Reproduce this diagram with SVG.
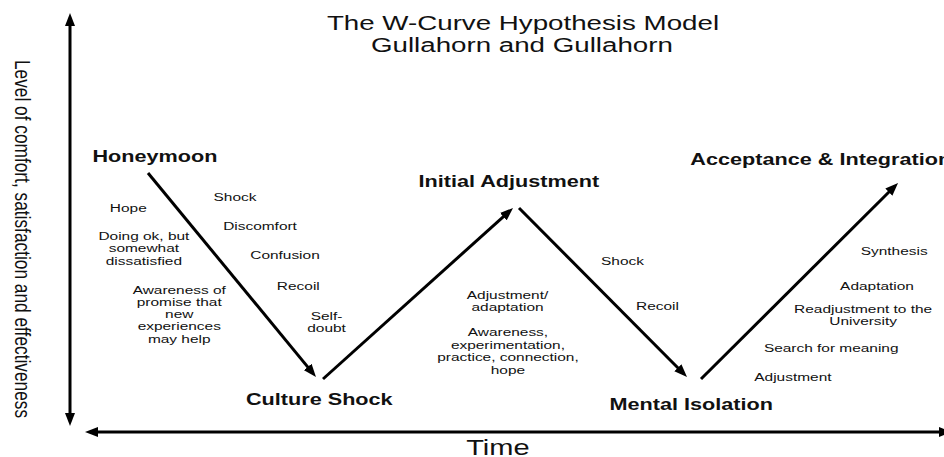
<svg xmlns="http://www.w3.org/2000/svg" width="944" height="457" viewBox="0 0 944 457">
<defs>
<marker id="ah" viewBox="0 0 13 10" refX="8" refY="5" markerWidth="13" markerHeight="10" markerUnits="userSpaceOnUse" orient="auto-start-reverse">
<path d="M0,0 L13,5 L0,10 z" fill="#000"/>
</marker>
<style>
text{font-family:"Liberation Sans",Arial,sans-serif;fill:#111;text-anchor:middle}
.t{font-size:21px}
.b{font-size:16.4px;font-weight:bold}
.s{font-size:11.7px}
.ax{font-size:22px}
.yl{font-size:17.3px;text-anchor:middle}
.st{text-anchor:start}
.ln{stroke:#000;stroke-width:3;fill:none;marker-end:url(#ah)}
.axis{stroke:#000;stroke-width:3;fill:none;marker-start:url(#ah);marker-end:url(#ah)}
</style>
</defs>
<rect width="944" height="457" fill="#fff"/>

<g id="connectors">
<line class="axis" x1="70" y1="18" x2="70" y2="421"/>
<line class="axis" x1="90" y1="432" x2="947" y2="432"/>
<line class="ln" x1="148" y1="173" x2="312.8" y2="373.1"/>
<line class="ln" x1="323" y1="379" x2="509.3" y2="211.3"/>
<line class="ln" x1="519" y1="208" x2="683.5" y2="373.5"/>
<line class="ln" x1="701" y1="379" x2="894.5" y2="186.5"/>
</g>

<g transform="scale(1.32 1)">
<g id="title">
<text class="t" x="396.2" y="30">The W-Curve Hypothesis Model</text>
<text class="t" x="395.4" y="52">Gullahorn and Gullahorn</text>
</g>
<g id="axis-labels">
<text class="ax" x="377.2" y="455">Time</text>
<text class="yl" transform="translate(11.4 239) rotate(90)">Level of comfort, satisfaction and effectiveness</text>
</g>
<g id="honeymoon">
<text class="b" x="117.4" y="162">Honeymoon</text>
<text class="s" x="97.2" y="212">Hope</text>
<text class="s" x="109" y="240">Doing ok, but</text>
<text class="s" x="109" y="252.5">somewhat</text>
<text class="s" x="109" y="265">dissatisfied</text>
<text class="s" x="135.8" y="293.7">Awareness of</text>
<text class="s" x="135.8" y="306">promise that</text>
<text class="s" x="135.8" y="318.2">new</text>
<text class="s" x="135.8" y="330.4">experiences</text>
<text class="s" x="135.8" y="342.6">may help</text>
<text class="s" x="178" y="200.7">Shock</text>
<text class="s" x="197" y="230">Discomfort</text>
<text class="s" x="215.9" y="259.5">Confusion</text>
<text class="s" x="226" y="289.7">Recoil</text>
<text class="s" x="247.4" y="320">Self-</text>
<text class="s" x="247.4" y="332">doubt</text>
</g>
<g id="culture-shock">
<text class="b" x="241.9" y="404.7">Culture Shock</text>
</g>
<g id="initial-adjustment">
<text class="b" x="385.5" y="186.7">Initial Adjustment</text>
<text class="s" x="384.5" y="299.3">Adjustment/</text>
<text class="s" x="384.5" y="311.3">adaptation</text>
<text class="s" x="384.8" y="336">Awareness,</text>
<text class="s" x="384.8" y="348.6">experimentation,</text>
<text class="s" x="384.8" y="361.2">practice, connection,</text>
<text class="s" x="384.8" y="373.6">hope</text>
<text class="s" x="471.6" y="264.7">Shock</text>
<text class="s" x="498.1" y="309.7">Recoil</text>
</g>
<g id="mental-isolation">
<text class="b" x="523.6" y="409.7">Mental Isolation</text>
<text class="s" x="600.7" y="381.3">Adjustment</text>
<text class="s" x="629.7" y="352.3">Search for meaning</text>
<text class="s" x="653.9" y="313">Readjustment to the</text>
<text class="s" x="653.9" y="325">University</text>
<text class="s" x="664.4" y="289.7">Adaptation</text>
<text class="s" x="677.4" y="254.7">Synthesis</text>
</g>
<g id="acceptance-integration">
<text class="b st" x="523" y="165">Acceptance &amp; Integration</text>
</g>
</g>
</svg>
